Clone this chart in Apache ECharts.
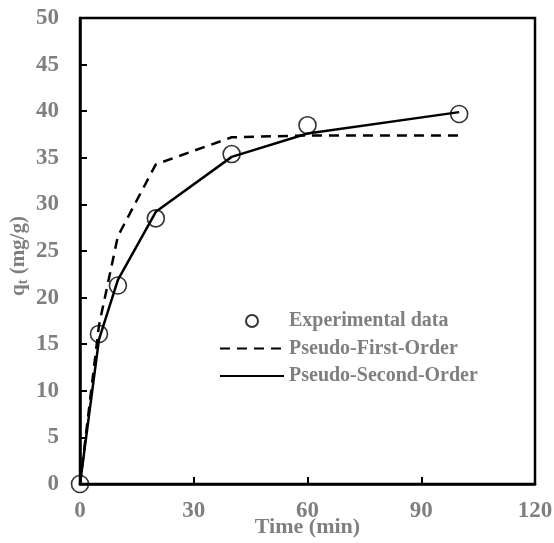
<!DOCTYPE html>
<html>
<head>
<meta charset="utf-8">
<script src="https://cdn.jsdelivr.net/npm/echarts@6/dist/echarts.min.js"></script>
<style>html,body{margin:0;padding:0;background:#fff}#c{width:554px;height:543px}</style>
</head>
<body>
<div id="c"></div>
<script>
const timeMin = [0, 5, 10, 20, 40, 60, 100];
const experimental = [0, 16.1, 21.3, 28.5, 35.4, 38.5, 39.7];
const pseudoFirst = [0, 17.0, 26.6, 34.3, 37.2, 37.4, 37.4];
const pseudoSecond = [0, 15.5, 21.9, 29.2, 35.1, 37.6, 39.9];
const xTicks = [0, 30, 60, 90, 120];
const yTicks = [0, 5, 10, 15, 20, 25, 30, 35, 40, 45, 50];

const pair = (xs, ys) => xs.map((x, i) => [x, ys[i]]);
const grey = '#7f7f7f';
const font = '"Liberation Serif", "Times New Roman", serif';

const chart = echarts.init(document.getElementById('c'));
chart.setOption({
  animation: false,
  backgroundColor: '#fff',
  grid: { left: 80, right: 19, top: 18, bottom: 59, outerBoundsMode: 'none', containLabel: false, show: true, borderColor: '#000', borderWidth: 2.5, backgroundColor: 'transparent' },
  legend: {
    orient: 'vertical', left: 214, top: 306,
    itemWidth: 64, itemHeight: 12, itemGap: 7.5,
    textStyle: { color: grey, fontFamily: font, fontWeight: 'bold', fontSize: 20 },
    data: [
      { name: 'Experimental data' },
      { name: 'Pseudo-First-Order', itemStyle: { opacity: 0 } },
      { name: 'Pseudo-Second-Order', itemStyle: { opacity: 0 } }
    ]
  },
  xAxis: {
    type: 'value', min: xTicks[0], max: xTicks[xTicks.length - 1], interval: 30,
    name: 'Time (min)', nameLocation: 'middle', nameGap: 32, nameMoveOverlap: false,
    nameTextStyle: { color: grey, fontFamily: font, fontWeight: 'bold', fontSize: 22 },
    axisLine: { lineStyle: { color: '#000', width: 2.5 } },
    axisTick: { inside: true, length: 7, lineStyle: { color: '#000', width: 2 } },
    axisLabel: { color: grey, fontFamily: font, fontWeight: 'bold', fontSize: 23, margin: 16 },
    splitLine: { show: false }
  },
  yAxis: {
    type: 'value', min: yTicks[0], max: yTicks[yTicks.length - 1], interval: 5,
    name: '{q|q}{t|t}{n| (mg/g)}', nameLocation: 'middle', nameGap: 50, nameMoveOverlap: false,
    nameTextStyle: {
      color: grey, fontFamily: font, fontWeight: 'bold', fontSize: 21, padding: [0, 10, 0, 0],
      rich: {
        q: { color: grey, fontFamily: font, fontWeight: 'bold', fontSize: 21 },
        t: { color: grey, fontFamily: font, fontWeight: 'bold', fontSize: 14, verticalAlign: 'bottom', padding: [8, 0, 0, 0] },
        n: { color: grey, fontFamily: font, fontWeight: 'bold', fontSize: 21 }
      }
    },
    axisLine: { lineStyle: { color: '#000', width: 2.5 } },
    axisTick: { inside: true, length: 7, lineStyle: { color: '#000', width: 2 } },
    axisLabel: { color: grey, fontFamily: font, fontWeight: 'bold', fontSize: 23, margin: 21 },
    splitLine: { show: false }
  },
  series: [
    {
      name: 'Pseudo-First-Order', type: 'line', data: pair(timeMin, pseudoFirst),
      symbol: 'none', showSymbol: false, z: 2,
      lineStyle: { color: '#000', width: 2.5, type: [10, 7] }, itemStyle: { color: '#000' }
    },
    {
      name: 'Pseudo-Second-Order', type: 'line', data: pair(timeMin, pseudoSecond),
      symbol: 'none', showSymbol: false, z: 2,
      lineStyle: { color: '#000', width: 2.5 }, itemStyle: { color: '#000' }
    },
    {
      name: 'Experimental data', type: 'scatter', data: pair(timeMin, experimental),
      symbol: 'circle', symbolSize: 17, z: 3, clip: false,
      itemStyle: { color: 'rgba(255,255,255,0)', borderColor: '#000', borderWidth: 1.6 }
    }
  ]
});
</script>
</body>
</html>
